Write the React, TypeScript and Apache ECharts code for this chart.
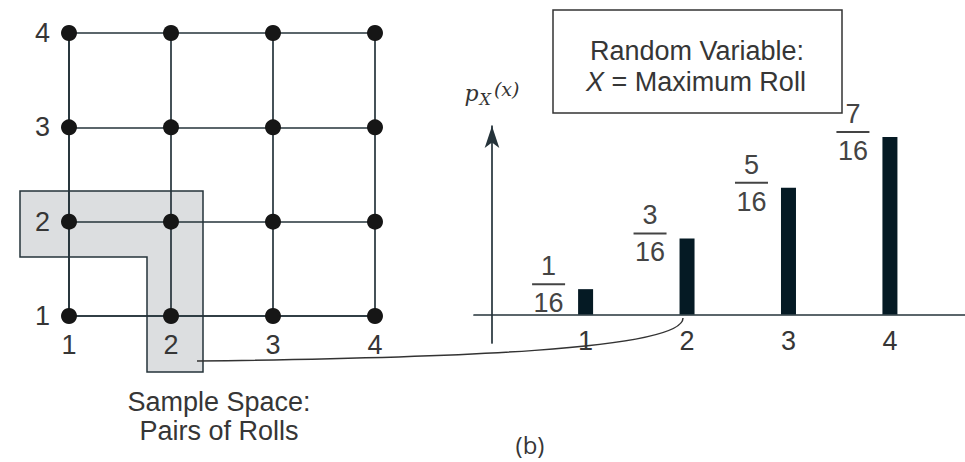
import React, { useEffect, useRef } from "react";
import * as echarts from "echarts";

// Sample space: pairs of rolls of a 4-sided die
const rollValues = [1, 2, 3, 4];
const rollTickLabels = ["1", "2", "3", "4"];

// PMF of X = maximum roll
const pmfX = [1, 2, 3, 4];
const pmfNumerators = [1, 3, 5, 7];
const pmfDenominator = 16;
const pmfTickValues = [1, 2, 3, 4];

const TEXT = "#363636";
const LINE = "#25333a";
const SANS = "'Liberation Sans', Arial, sans-serif";
const SERIF = "'DejaVu Serif', 'Liberation Serif', serif";

export default function App() {
  const ref = useRef<HTMLDivElement | null>(null);

  useEffect(() => {
    if (!ref.current) return;
    const chart = echarts.init(ref.current, undefined, { renderer: "svg" });

    const pairs: number[][] = [];
    rollValues.forEach((a) => rollValues.forEach((b) => pairs.push([a, b])));

    const barData = pmfX.map((x, i) => [x, pmfNumerators[i] / pmfDenominator]);

    const option: any = {
      animation: false,
      backgroundColor: "#ffffff",
      grid: [
        { left: 69, top: 33, width: 306, height: 283 },
        { left: 474, top: 126, width: 491, height: 217 },
      ],
      xAxis: [
        {
          gridIndex: 0,
          type: "value",
          min: 1,
          max: 4,
          interval: 1,
          z: 10,
          axisLine: { show: true, lineStyle: { color: LINE, width: 1.7 } },
          axisTick: { show: false },
          splitLine: { show: true, lineStyle: { color: LINE, width: 1.7, type: "solid" } },
          axisLabel: {
            margin: 15,
            color: TEXT,
            fontSize: 27,
            fontFamily: SANS,
            formatter: (v: number) => rollTickLabels[rollValues.indexOf(v)] ?? "",
          },
        },
        {
          gridIndex: 1,
          type: "value",
          min: -0.1,
          max: 4.74,
          axisLine: { show: true, onZero: true, lineStyle: { color: LINE, width: 1.7 } },
          axisTick: { show: false },
          splitLine: { show: false },
          axisLabel: {
            customValues: pmfTickValues,
            margin: -16,
            color: TEXT,
            fontSize: 27,
            fontFamily: SANS,
            formatter: (v: number) => String(v),
          },
        },
      ],
      yAxis: [
        {
          gridIndex: 0,
          type: "value",
          min: 1,
          max: 4,
          interval: 1,
          z: 10,
          axisLine: { show: true, lineStyle: { color: LINE, width: 1.7 } },
          axisTick: { show: false },
          splitLine: { show: true, lineStyle: { color: LINE, width: 1.7, type: "solid" } },
          axisLabel: {
            margin: 19,
            color: TEXT,
            fontSize: 27,
            fontFamily: SANS,
            formatter: (v: number) => rollTickLabels[rollValues.indexOf(v)] ?? "",
          },
        },
        {
          gridIndex: 1,
          type: "value",
          min: -0.0702,
          max: 0.4646,
          offset: -18,
          axisLine: {
            show: true,
            onZero: false,
            symbol: ["none", "arrow"],
            symbolSize: [11, 22],
            lineStyle: { color: LINE, width: 1.7 },
          },
          axisTick: { show: false },
          axisLabel: { show: false },
          splitLine: { show: false },
          name: "{p|p}{s|X}{a|(x)}",
          nameLocation: "end",
          nameGap: 19,
          nameTextStyle: {
            align: "center",
            verticalAlign: "bottom",
            rich: {
              p: { fontFamily: SERIF, fontStyle: "italic", fontSize: 22, lineHeight: 28, color: "#333", verticalAlign: "middle" },
              s: { fontFamily: SERIF, fontStyle: "italic", fontSize: 16, lineHeight: 17, color: "#333", verticalAlign: "bottom", padding: [0, 3, 0, 1] },
              a: { fontFamily: SERIF, fontStyle: "italic", fontSize: 19, lineHeight: 22, color: "#333", verticalAlign: "top" },
            },
          },
        },
      ],
      graphic: [
        {
          type: "polygon",
          z: 1,
          shape: {
            points: [
              [20, 191],
              [203, 191],
              [203, 372],
              [147, 372],
              [147, 257],
              [20, 257],
            ],
          },
          style: { fill: "#dcdee0", stroke: LINE, lineWidth: 1.5 },
        },
        {
          type: "bezierCurve",
          z: 30,
          shape: { x1: 197, y1: 361, cpx1: 450, cpy1: 358, cpx2: 683, cpy2: 350, x2: 683, y2: 318 },
          style: { stroke: "#333", lineWidth: 1.5, fill: null },
        },
        {
          type: "rect",
          z: 5,
          shape: { x: 553, y: 10, width: 289, height: 103 },
          style: { fill: "#ffffff", stroke: "#333", lineWidth: 1.5 },
        },
        {
          type: "text",
          z: 6,
          style: {
            text: "Random Variable:",
            x: 697,
            y: 51,
            align: "center",
            verticalAlign: "middle",
            fill: TEXT,
            fontSize: 27,
            fontFamily: SANS,
          },
        },
        {
          type: "text",
          z: 6,
          style: {
            text: "{i|X} = Maximum Roll",
            x: 696,
            y: 82,
            align: "center",
            verticalAlign: "middle",
            fill: TEXT,
            fontSize: 27,
            fontFamily: SANS,
            rich: {
              i: { fontStyle: "italic", fontSize: 27, fontFamily: SANS, fill: TEXT },
            },
          },
        },
        {
          type: "text",
          z: 6,
          style: {
            text: "Sample Space:\nPairs of Rolls",
            x: 219,
            y: 416,
            align: "center",
            verticalAlign: "middle",
            fill: TEXT,
            fontSize: 27,
            lineHeight: 29,
            fontFamily: SANS,
          },
        },
        {
          type: "text",
          z: 6,
          style: {
            text: "(b)",
            x: 530,
            y: 444,
            align: "center",
            verticalAlign: "middle",
            fill: TEXT,
            fontSize: 24,
            fontFamily: "'Open Sans', sans-serif",
          },
        },
      ],
      series: [
        {
          type: "scatter",
          xAxisIndex: 0,
          yAxisIndex: 0,
          z: 12,
          symbol: "circle",
          symbolSize: 16,
          itemStyle: { color: "#161616", opacity: 1 },
          data: pairs,
        },
        {
          type: "bar",
          xAxisIndex: 1,
          yAxisIndex: 1,
          barWidth: 15,
          itemStyle: { color: "#051a24" },
          data: barData,
          label: {
            show: true,
            position: "top",
            distance: 0,
            offset: [-37, -4],
            align: "center",
            verticalAlign: "middle",
            color: "#444",
            fontFamily: SANS,
            formatter: (p: any) =>
              `{n|${pmfNumerators[p.dataIndex]}}\n{l| }\n{d|${pmfDenominator}}`,
            rich: {
              n: { fontSize: 27, lineHeight: 30, color: "#444", align: "center", fontFamily: SANS },
              l: { width: 33, height: 2, lineHeight: 6, fontSize: 2, backgroundColor: "#444", align: "center" },
              d: { fontSize: 27, lineHeight: 32, color: "#444", align: "center", fontFamily: SANS },
            },
          },
        },
      ],
    };

    chart.setOption(option);
    return () => chart.dispose();
  }, []);

  return (
    <div
      ref={ref}
      style={{ position: "fixed", left: 0, top: 0, width: 965, height: 462, background: "#fff" }}
    />
  );
}
